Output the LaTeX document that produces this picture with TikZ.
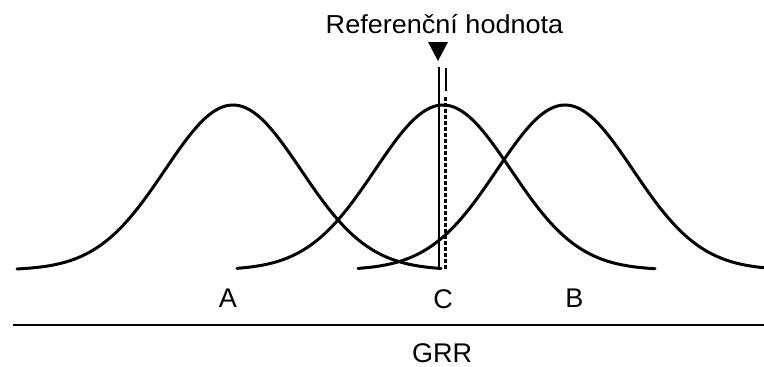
\documentclass[tikz,border=0pt]{standalone}
\usepackage{fontspec}
\setmainfont{Liberation Sans}
\begin{document}
\begin{tikzpicture}[x=1pt,y=-1pt,
  curve/.style={line width=3pt,line cap=round},
  lbl/.style={inner sep=0pt,anchor=base,font=\fontsize{27}{30}\selectfont},
  ttl/.style={inner sep=0pt,anchor=base,xscale=1.04,font=\fontsize{26}{30}\selectfont}]
\useasboundingbox (0,0) rectangle (764,367);
% curves
\draw[curve] plot[domain=17:441,samples=120,smooth] (\x,{270-165*exp(-0.5*((\x-233)/68)^2)});
\draw[curve] plot[domain=237:655,samples=120,smooth] (\x,{270-165*exp(-0.5*((\x-443)/68)^2)});
\draw[curve] plot[domain=358:764,samples=120,smooth] (\x,{270-165*exp(-0.5*((\x-565)/68)^2)});
% reference markers
\coordinate (vtop) at (439,67);
\coordinate (vbot) at (439,270);
\draw[line width=2.8pt] (vtop) -- (vbot);
\coordinate (stop) at (446,68);
\coordinate (sbot) at (446,91);
\draw[line width=2.8pt] (stop) -- (sbot);
\coordinate (dtop) at (445.5,97);
\coordinate (dbot) at (445.5,270);
\draw[line width=2.8pt,dash pattern=on 3.5pt off 2.5pt] (dtop) -- (dbot);
\fill (428,42) -- (448,42) -- (438,61) -- cycle;
% texts
\node[ttl] (ref) at (444.5,33) {Referenční hodnota};
\node[lbl] (A) at (228,307) {A};
\node[lbl] (C) at (443,308) {C};
\node[lbl] (B) at (574.5,307) {B};
% axis
\coordinate (axl) at (13,325);
\coordinate (axr) at (764,325);
\draw[line width=2.7pt] (axl) -- (axr);
\node[lbl] (grr) at (442,362) {GRR};
\end{tikzpicture}
\end{document}
